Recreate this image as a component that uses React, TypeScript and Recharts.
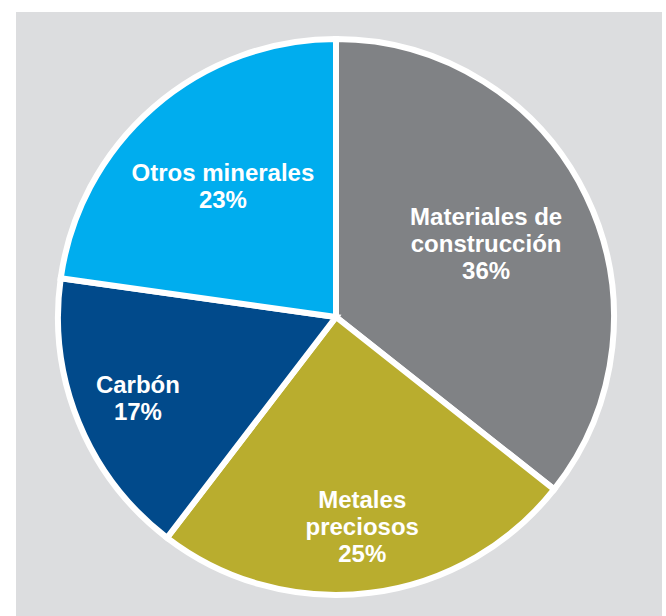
import { PieChart, Pie, Cell } from 'recharts';

const categories = ['Materiales de construcción', 'Metales preciosos', 'Carbón', 'Otros minerales'];
const labelLines = [['Materiales de', 'construcción'], ['Metales', 'preciosos'], ['Carbón'], ['Otros minerales']];
const shares = [36, 25, 17, 23];
const colors = ['#808285', '#b9ad2e', '#014a8b', '#00adee'];

// how far from the centre each label sits (fraction of outer radius)
const labelRadius = [0.6, 0.76, 0.77, 0.62];

const data = categories.map((name, i) => ({ name, value: shares[i] }));

const RAD = Math.PI / 180;
const LINE = 27;

function SliceLabel(props: any) {
  const { cx, cy, midAngle, outerRadius, index } = props;
  const r = outerRadius * labelRadius[index];
  const x = cx + r * Math.cos(-midAngle * RAD);
  const y = cy + r * Math.sin(-midAngle * RAD);
  const lines = [...labelLines[index], `${shares[index]}%`];
  const top = y - ((lines.length - 1) * LINE) / 2 + 8;
  return (
    <text
      x={x}
      y={top}
      textAnchor="middle"
      fill="#fff"
      style={{ fontFamily: '"Liberation Sans", Arial, sans-serif', fontWeight: 700, fontSize: 24 }}
    >
      {lines.map((line, i) => (
        <tspan key={i} x={x} y={top + i * LINE}>
          {line}
        </tspan>
      ))}
    </text>
  );
}

export default function App() {
  return (
    <div style={{ position: 'absolute', left: 0, top: 0, width: 666, height: 616, background: '#fff', overflow: 'hidden' }}>
      <div style={{ position: 'absolute', left: 16, top: 12, width: 646, height: 604, background: '#dcdddf' }} />
      <div style={{ position: 'absolute', left: 0, top: 0 }}>
        <PieChart width={666} height={616} margin={{ top: 0, right: 0, bottom: 0, left: 0 }}>
          <Pie
            data={data}
            dataKey="value"
            nameKey="name"
            cx={336}
            cy={317}
            outerRadius={278}
            startAngle={90}
            endAngle={-270}
            stroke="#ffffff"
            strokeWidth={6}
            label={SliceLabel}
            labelLine={false}
            isAnimationActive={false}
          >
            {data.map((d, i) => (
              <Cell key={d.name} fill={colors[i]} />
            ))}
          </Pie>
        </PieChart>
      </div>
    </div>
  );
}
